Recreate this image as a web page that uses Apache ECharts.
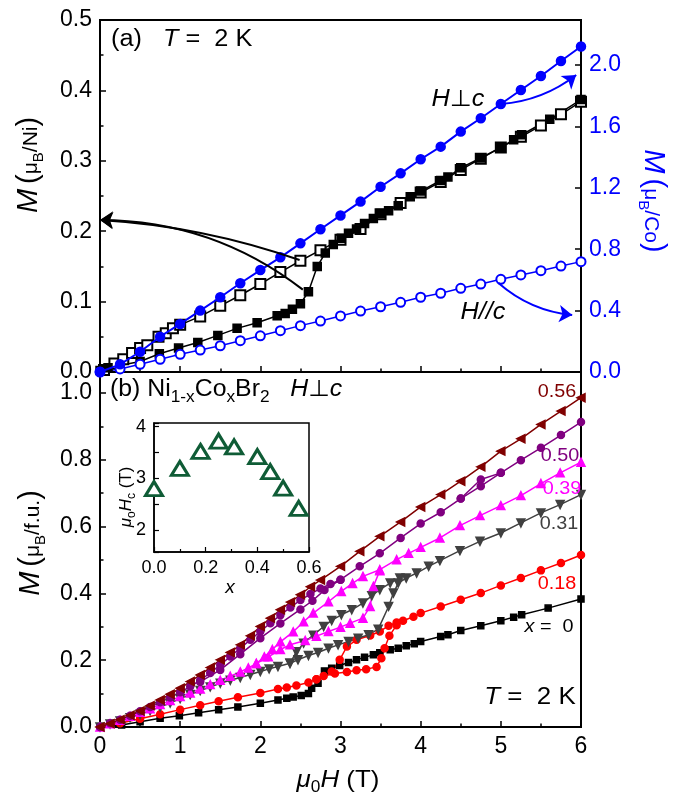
<!DOCTYPE html>
<html>
<head>
<meta charset="utf-8">
<script src="https://cdn.jsdelivr.net/npm/echarts@6/dist/echarts.min.js"></script>
<style>html,body{margin:0;background:#fff}#chart{width:682px;height:804px}</style>
</head>
<body>
<div id="chart"></div>
<script>
// ---- panel (a): T = 2 K ----
var fieldA = [0,0.25,0.5,0.75,1,1.25,1.5,1.75,2,2.25,2.5,2.75,3,3.25,3.5,3.75,4,4.25,4.5,4.75,5,5.25,5.5,5.75,6];
var coPerp = [0,0.05,0.132,0.23,0.313,0.40,0.487,0.578,0.664,0.747,0.838,0.93,1.02,1.11,1.207,1.294,1.386,1.468,1.566,1.653,1.746,1.837,1.928,2.026,2.12];
var coPar  = [0,0.02,0.05,0.083,0.115,0.143,0.171,0.204,0.236,0.269,0.302,0.332,0.365,0.397,0.425,0.454,0.487,0.513,0.545,0.573,0.604,0.632,0.66,0.69,0.719];
var niFilled = [[0,0.002],[0.1,0.006],[0.5,0.015],[0.74,0.026],[0.98,0.034],[1.22,0.042],[1.47,0.052],[1.71,0.062],[1.96,0.07],[2.21,0.08],[2.31,0.083],[2.4,0.089],[2.5,0.097],[2.6,0.114],[2.71,0.15],[2.81,0.169],[2.91,0.181],[3.01,0.19],[3.1,0.197],[3.2,0.203],[3.3,0.211],[3.41,0.218],[3.5,0.225],[3.6,0.229],[3.72,0.236],[3.87,0.249],[4,0.257],[4.25,0.272],[4.34,0.277],[4.5,0.29],[4.75,0.304],[5,0.319],[5.16,0.33],[5.26,0.337],[5.61,0.359],[6,0.387]];
var niOpen = [[0.05,0.003],[0.18,0.012],[0.29,0.018],[0.4,0.027],[0.5,0.034],[0.59,0.038],[0.73,0.05],[0.82,0.055],[0.91,0.062],[1,0.067],[1.25,0.079],[1.5,0.094],[1.75,0.109],[2,0.125],[2.25,0.142],[2.5,0.158],[2.75,0.173],[3,0.188],[3.25,0.203],[3.5,0.224],[3.75,0.24],[4,0.255],[4.25,0.27],[4.5,0.287],[4.75,0.303],[5,0.319],[5.25,0.334],[5.5,0.35],[5.75,0.366],[6,0.384]];
var blackArrows = [[[2.49,0.159],[0,0.216]],[[2.53,0.117],[0,0.216]]];
var blueArrows = [[[5.0,1.746],[5.94,1.935]],[[4.97,0.58],[5.89,0.371]]];

// ---- panel (b): Ni1-xCoxBr2, H perp c ----
var x0 = [[0,0],[0.27,0.006],[0.5,0.016],[0.75,0.026],[0.99,0.034],[1.23,0.043],[1.48,0.052],[1.72,0.06],[2,0.071],[2.22,0.081],[2.33,0.086],[2.41,0.09],[2.51,0.094],[2.6,0.1],[2.64,0.116],[2.72,0.131],[2.8,0.168],[2.89,0.176],[2.99,0.184],[3.1,0.193],[3.2,0.201],[3.3,0.209],[3.41,0.216],[3.49,0.222],[3.62,0.231],[3.72,0.236],[3.82,0.243],[3.92,0.249],[4,0.256],[4.25,0.271],[4.34,0.276],[4.5,0.289],[4.75,0.303],[5,0.318],[5.16,0.329],[5.26,0.336],[5.59,0.356],[6,0.383]];
var x18 = [[0,0],[0.25,0.011],[0.5,0.025],[0.75,0.038],[1,0.052],[1.25,0.065],[1.48,0.077],[1.72,0.089],[2,0.102],[2.22,0.114],[2.33,0.118],[2.45,0.124],[2.6,0.133],[2.7,0.143],[2.79,0.153],[2.93,0.16],[3.08,0.165],[3.2,0.17],[3.32,0.173],[3.45,0.18],[3.51,0.206],[3.55,0.236],[3.61,0.273],[3.7,0.305],[3.78,0.318],[3.91,0.33],[4,0.341],[4.25,0.361],[4.5,0.381],[4.75,0.401],[5,0.424],[5.25,0.446],[5.5,0.469],[5.75,0.491],[6,0.515]];
var x18b = [[2.7,0.143],[2.89,0.166],[2.99,0.201],[3.08,0.241],[3.2,0.261],[3.37,0.274],[3.49,0.286],[3.6,0.303],[3.7,0.313]];
var x31 = [[0,0],[0.125,0.009],[0.25,0.018],[0.375,0.028],[0.5,0.038],[0.625,0.049],[0.75,0.06],[0.875,0.072],[1,0.085],[1.125,0.097],[1.25,0.109],[1.375,0.12],[1.5,0.131],[1.625,0.14],[1.75,0.148],[1.875,0.157],[2,0.166],[2.11,0.174],[2.22,0.181],[2.37,0.191],[2.47,0.201],[2.6,0.214],[2.72,0.223],[2.85,0.236],[2.97,0.246],[3.1,0.256],[3.22,0.266],[3.35,0.276],[3.47,0.293],[3.6,0.361],[3.66,0.401],[3.72,0.431],[3.82,0.446],[3.95,0.461],[4.1,0.481],[4.24,0.498],[4.49,0.528],[4.74,0.556],[5,0.581],[5.25,0.611],[5.5,0.641],[5.74,0.666],[6,0.696]];
var x31b = [[2.37,0.191],[2.45,0.225],[2.54,0.251],[2.66,0.275],[2.79,0.301],[2.89,0.319],[3.01,0.336],[3.14,0.351],[3.28,0.371],[3.39,0.393],[3.49,0.411],[3.62,0.431],[3.74,0.446]];
var x39 = [[0,0],[0.125,0.01],[0.25,0.02],[0.375,0.032],[0.5,0.044],[0.625,0.055],[0.75,0.067],[0.875,0.079],[1,0.091],[1.125,0.102],[1.25,0.114],[1.375,0.127],[1.5,0.14],[1.625,0.152],[1.75,0.165],[1.85,0.177],[1.95,0.19],[2.05,0.21],[2.15,0.232],[2.25,0.255],[2.41,0.285],[2.54,0.315],[2.66,0.341],[2.85,0.375],[3.01,0.406],[3.15,0.43],[3.28,0.451],[3.49,0.471],[3.7,0.501],[3.85,0.52],[4,0.538],[4.24,0.566],[4.49,0.603],[4.74,0.633],[5,0.663],[5.25,0.693],[5.5,0.729],[5.74,0.761],[6,0.793]];
var x39b = [[1.95,0.19],[2.1,0.21],[2.25,0.232],[2.37,0.246],[2.56,0.259],[2.7,0.272],[2.85,0.286],[3,0.299],[3.12,0.311],[3.28,0.326],[3.37,0.361],[3.41,0.421],[3.49,0.468]];
var x50 = [[0,0],[0.125,0.011],[0.25,0.022],[0.375,0.034],[0.5,0.047],[0.625,0.06],[0.75,0.074],[0.875,0.088],[1,0.104],[1.125,0.121],[1.25,0.14],[1.375,0.162],[1.5,0.186],[1.625,0.211],[1.75,0.236],[1.875,0.261],[2,0.286],[2.125,0.311],[2.25,0.335],[2.375,0.358],[2.5,0.38],[2.625,0.398],[2.75,0.415],[2.875,0.428],[3,0.441],[3.24,0.481],[3.49,0.52],[3.75,0.566],[4,0.609],[4.25,0.643],[4.5,0.684],[4.75,0.721],[5,0.761],[5.25,0.799],[5.5,0.836],[5.75,0.874],[6,0.913]];
var x50b = [[1.25,0.135],[1.5,0.171],[1.75,0.218],[2,0.266],[2.25,0.31],[2.5,0.352],[2.65,0.378],[2.8,0.41],[3,0.441]];
var x50c = [[4.5,0.684],[4.75,0.741],[5,0.761]];
var x56 = [[0,0],[0.125,0.01],[0.25,0.022],[0.375,0.035],[0.5,0.048],[0.625,0.064],[0.75,0.081],[0.875,0.098],[1,0.116],[1.125,0.136],[1.25,0.156],[1.375,0.178],[1.5,0.201],[1.625,0.223],[1.75,0.246],[1.875,0.273],[2,0.301],[2.125,0.326],[2.25,0.351],[2.375,0.374],[2.5,0.396],[2.625,0.42],[2.75,0.44],[3,0.481],[3.24,0.526],[3.49,0.571],[3.75,0.614],[4,0.659],[4.25,0.696],[4.5,0.736],[4.75,0.779],[5,0.826],[5.25,0.863],[5.5,0.906],[5.75,0.946],[6,0.986]];

// ---- inset: critical field vs x ----
var insetX = [0,0.1,0.18,0.25,0.31,0.4,0.45,0.5,0.56];
var insetHc = [2.8,3.19,3.52,3.72,3.61,3.42,3.13,2.81,2.42];

var FONT = "'Liberation Sans', Arial, 'DejaVu Sans', sans-serif";
var chart = echarts.init(document.getElementById('chart'));

// rich-text token; pt pushes the glyphs down so that baselines line up / subscripts drop
function tk(size, color, italic, pt) {
    return {fontSize: size, fontFamily: FONT, fill: color, fontStyle: italic ? 'italic' : 'normal',
            verticalAlign: 'top', padding: [pt || 0, 0, 0, 0]};
}
function label(txt, x, y, rich, opts) {
    opts = opts || {};
    return {
        type: 'text', x: x, y: y, rotation: opts.rot || 0, scaleX: opts.sx || 1, z: 100,
        style: {text: txt, rich: rich, textAlign: opts.align || 'center', textVerticalAlign: 'middle',
                fill: opts.color || '#000', font: '18px ' + FONT}
    };
}
function axisRich(c) {
    return {m: tk(29, c, true, 0), p: tk(29, c, false, 0), u: tk(21, c, false, 7), s: tk(15, c, false, 17)};
}
function plain(size, c) {
    var ss = Math.round(size * 0.68);
    return {n: tk(size, c), i: tk(size, c, true), s: tk(ss, c, false, Math.round(0.83 * (size - ss) + size * 0.22))};
}

function xTicks(grid, showLabel) {
    return {
        type: 'value', gridIndex: grid, min: 0, max: 6, interval: 1,
        axisLine: {lineStyle: {color: '#000', width: 2}},
        axisTick: {inside: true, length: 6, lineStyle: {width: 1.5}},
        minorTick: {show: true, splitNumber: 2, length: 3.5, lineStyle: {color: '#000', width: 1.5}},
        splitLine: {show: false},
        axisLabel: {show: showLabel, color: '#000', fontSize: 23, fontFamily: FONT, margin: 8}
    };
}

function line(data, xi, yi, color, symbol, size, extra) {
    var s = {
        type: 'line', data: data, xAxisIndex: xi, yAxisIndex: yi,
        symbol: symbol, symbolSize: size, showSymbol: true,
        lineStyle: {color: color, width: 1.5},
        itemStyle: {color: color, borderColor: color, borderWidth: 1.5},
        emphasis: {disabled: true}
    };
    for (var k in extra) s[k] = extra[k];
    return s;
}
function arrows(list, yi, color, curv) {
    return {
        type: 'lines', coordinateSystem: 'cartesian2d', xAxisIndex: 0, yAxisIndex: yi,
        symbol: ['none', 'arrow'], symbolSize: 13, z: 5,
        lineStyle: {color: color, width: 2, opacity: 1},
        data: list.map(function (c, i) { return {coords: c, lineStyle: {curveness: curv[i]}}; })
    };
}
function fix1(v) { return v.toFixed(1); }

chart.setOption({
    animation: false,
    grid: [
        {left: 100, top: 20, width: 481, height: 352, show: true, borderColor: '#000', borderWidth: 2},
        {left: 100, top: 372, width: 481, height: 355, show: true, borderColor: '#000', borderWidth: 2},
        {left: 154, top: 423, width: 155, height: 129, show: true, borderColor: '#000', borderWidth: 1.5}
    ],
    xAxis: [
        xTicks(0, false),
        xTicks(1, true),
        {
            type: 'value', gridIndex: 2, min: 0, max: 0.6, interval: 0.2,
            axisLine: {lineStyle: {color: '#000', width: 1.5}},
            axisTick: {inside: true, length: 5, lineStyle: {width: 1.2}},
            minorTick: {show: true, splitNumber: 2, length: 3, lineStyle: {color: '#000', width: 1.2}},
            splitLine: {show: false},
            axisLabel: {color: '#000', fontSize: 18, fontFamily: FONT, margin: 7, formatter: fix1}
        }
    ],
    yAxis: [
        {
            type: 'value', gridIndex: 0, min: 0, max: 0.5, interval: 0.1,
            axisLine: {show: true, lineStyle: {color: '#000', width: 2}},
            axisTick: {show: true, inside: true, length: 6, lineStyle: {width: 1.5}},
            minorTick: {show: true, splitNumber: 2, length: 3.5, lineStyle: {color: '#000', width: 1.5}},
            splitLine: {show: false},
            axisLabel: {color: '#000', fontSize: 23, fontFamily: FONT, margin: 8, formatter: fix1}
        },
        {
            type: 'value', gridIndex: 0, position: 'right', min: 0, max: 2.293, minInterval: 0.4, maxInterval: 0.4,
            axisLine: {show: true, lineStyle: {color: '#000', width: 2}},
            axisTick: {show: true, inside: true, length: 6, lineStyle: {width: 1.5}},
            splitLine: {show: false},
            axisLabel: {color: '#0000ff', fontSize: 23, fontFamily: FONT, margin: 8, showMaxLabel: false, formatter: fix1}
        },
        {
            type: 'value', gridIndex: 1, min: 0, max: 1.063, minInterval: 0.2, maxInterval: 0.2,
            axisLine: {show: true, lineStyle: {color: '#000', width: 2}},
            axisTick: {show: true, inside: true, length: 6, lineStyle: {width: 1.5}},
            minorTick: {show: true, splitNumber: 2, length: 3.5, lineStyle: {color: '#000', width: 1.5}},
            splitLine: {show: false},
            axisLabel: {color: '#000', fontSize: 23, fontFamily: FONT, margin: 8, showMaxLabel: false, formatter: fix1}
        },
        {
            type: 'value', gridIndex: 2, min: 1.574, max: 4.07, minInterval: 0.5, maxInterval: 0.5,
            axisLine: {show: true, lineStyle: {color: '#000', width: 1.5}},
            axisTick: {show: true, inside: true, length: 5, lineStyle: {width: 1.2}},
            splitLine: {show: false},
            axisLabel: {color: '#000', fontSize: 18, fontFamily: FONT, margin: 8,
                formatter: function (v) { return Math.abs(v - Math.round(v)) < 1e-6 ? String(Math.round(v)) : ''; }}
        }
    ],
    series: [
        line(niOpen, 0, 0, '#000', 'emptyRect', 10, {z: 3}),
        line(niFilled, 0, 0, '#000', 'rect', 8, {z: 3}),
        line(fieldA.map(function (x, i) { return [x, coPar[i]]; }), 0, 1, '#0000ff', 'emptyCircle', 9, {z: 3}),
        line(fieldA.map(function (x, i) { return [x, coPerp[i]]; }), 0, 1, '#0000ff', 'circle', 9,
            {z: 4, lineStyle: {color: '#0000ff', width: 2}}),
        arrows(blackArrows, 0, '#000', [-0.07, -0.17]),
        arrows(blueArrows, 1, '#0000ff', [-0.15, -0.16]),

        line(x0, 1, 2, '#000', 'rect', 6),
        line(x18, 1, 2, '#ff0000', 'circle', 7),
        line(x18b, 1, 2, '#ff0000', 'circle', 7),
        line(x31, 1, 2, '#404040', 'triangle', 8, {symbolRotate: 180}),
        line(x31b, 1, 2, '#404040', 'triangle', 8, {symbolRotate: 180}),
        line(x39, 1, 2, '#ff00ff', 'triangle', 8),
        line(x39b, 1, 2, '#ff00ff', 'triangle', 8),
        line(x50, 1, 2, '#800080', 'circle', 7),
        line(x50b, 1, 2, '#800080', 'circle', 7),
        line(x50c, 1, 2, '#800080', 'circle', 7),
        line(x56, 1, 2, '#800000', 'triangle', 8, {symbolRotate: 90}),

        {
            type: 'scatter', xAxisIndex: 2, yAxisIndex: 3,
            data: insetX.map(function (x, i) { return [x, insetHc[i]]; }),
            symbol: 'triangle', symbolSize: [17, 14],
            itemStyle: {color: '#ffffff', borderColor: '#0f5c36', borderWidth: 3, opacity: 1},
            emphasis: {disabled: true}
        }
    ],
    graphic: [
        label('{m|M} {p|(}{u|μ}{s|B}{u|/Ni}{p|)}', 30, 165, axisRich('#000'), {rot: Math.PI / 2}),
        label('{m|M} {p|(}{u|μ}{s|B}{u|/f.u.}{p|)}', 32, 543, axisRich('#000'), {rot: Math.PI / 2}),
        label('{m|M} {p|(}{u|μ}{s|B}{u|/Co}{p|)}', 652, 201, axisRich('#0000ff'), {rot: -Math.PI / 2}),
        label('{i|μ}{s|0}{i|H}{n| (T)}', 338, 782, plain(24, '#000'), {sx: 1.08}),

        label('{n|(a)   }{i|T}{n| =  2 K}', 111, 40, plain(23, '#000'), {align: 'left', sx: 1.1}),
        label('{i|H}{n|⊥}{i|c}', 458, 100, plain(23, '#000'), {sx: 1.1}),
        label('{i|H//c}', 483, 313, plain(23, '#000'), {sx: 1.1}),

        label('{n|(b) Ni}{s|1-x}{n|Co}{s|x}{n|Br}{s|2}{n|   }{i|H}{n|⊥}{i|c}', 110, 392, plain(23, '#000'), {align: 'left', sx: 1.08}),
        label('{n|0.56}', 557, 392, plain(18, '#800000'), {sx: 1.1}),
        label('{n|0.50}', 560, 456, plain(18, '#800080'), {sx: 1.1}),
        label('{n|0.39}', 562, 489, plain(18, '#ff00ff'), {sx: 1.1}),
        label('{n|0.31}', 559, 524, plain(18, '#404040'), {sx: 1.1}),
        label('{n|0.18}', 557, 584, plain(18, '#ff0000'), {sx: 1.1}),
        label('{i|x}{n| =  0}', 549, 627, plain(18, '#000'), {sx: 1.1}),
        label('{i|T}{n| =  2 K}', 530, 697, plain(24, '#000'), {sx: 1.08}),

        label('{i|μ}{s|o}{i|H}{s|c}{n| (T)}', 128, 497, plain(17, '#000'), {rot: Math.PI / 2}),
        label('{i|x}', 230, 588, plain(19, '#000'))
    ]
});
</script>
</body>
</html>
